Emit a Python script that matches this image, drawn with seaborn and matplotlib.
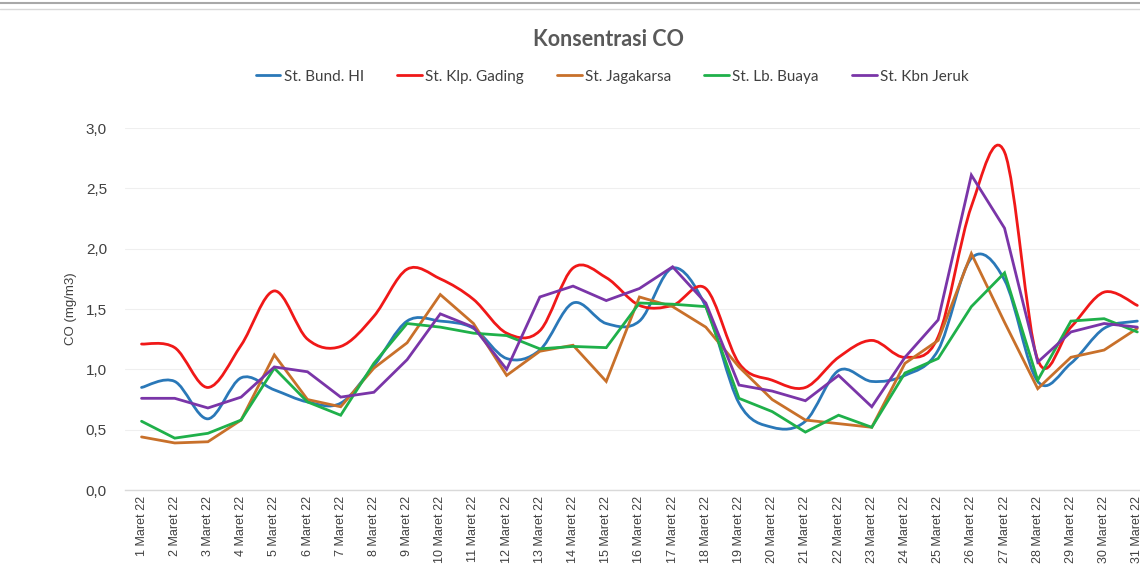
import numpy as np
import pandas as pd
import matplotlib.pyplot as plt
import seaborn as sns
from matplotlib.path import Path
from matplotlib.patches import PathPatch
from matplotlib.lines import Line2D

# data (CO, mg/m3), 1-31 Maret 2022
days = [f"{d} Maret 22" for d in range(1, 32)]
bund_hi = [0.85, 0.90, 0.59, 0.93, 0.83, 0.73, 0.72, 1.03, 1.40, 1.40, 1.34, 1.09, 1.16, 1.55, 1.38, 1.40,
           1.84, 1.52, 0.72, 0.52, 0.57, 0.99, 0.90, 0.95, 1.16, 1.92, 1.74, 0.90, 1.05, 1.34, 1.40]
klp_gading = [1.21, 1.18, 0.85, 1.20, 1.65, 1.25, 1.19, 1.44, 1.83, 1.75, 1.58, 1.30, 1.32, 1.84, 1.76, 1.53,
              1.53, 1.67, 1.05, 0.91, 0.85, 1.10, 1.24, 1.10, 1.27, 2.35, 2.80, 1.08, 1.35, 1.64, 1.53]
jagakarsa = [0.44, 0.39, 0.40, 0.58, 1.12, 0.75, 0.69, 1.01, 1.22, 1.62, 1.38, 0.95, 1.15, 1.20, 0.90, 1.60,
             1.52, 1.35, 1.02, 0.75, 0.58, 0.55, 0.52, 1.05, 1.24, 1.96, 1.39, 0.84, 1.10, 1.16, 1.34]
lb_buaya = [0.57, 0.43, 0.47, 0.58, 1.01, 0.73, 0.62, 1.05, 1.38, 1.35, 1.30, 1.28, 1.17, 1.19, 1.18, 1.55,
            1.54, 1.52, 0.76, 0.65, 0.48, 0.62, 0.52, 0.97, 1.09, 1.52, 1.80, 0.91, 1.40, 1.42, 1.31]
kbn_jeruk = [0.76, 0.76, 0.68, 0.77, 1.02, 0.98, 0.77, 0.81, 1.08, 1.46, 1.35, 1.00, 1.60, 1.69, 1.57, 1.67,
             1.85, 1.55, 0.87, 0.82, 0.74, 0.95, 0.69, 1.10, 1.41, 2.61, 2.17, 1.06, 1.31, 1.38, 1.35]

stations = ["St. Bund. HI", "St. Klp. Gading", "St. Jagakarsa", "St. Lb. Buaya", "St. Kbn Jeruk"]
series = [bund_hi, klp_gading, jagakarsa, lb_buaya, kbn_jeruk]
colors = ["#2a78b8", "#f01818", "#c8702a", "#1fb04a", "#7a35a8"]
smoothed = [True, True, False, False, False]

sns.set_style("white")
plt.rcParams["font.family"] = ["Liberation Sans", "DejaVu Sans"]

fig = plt.figure(figsize=(11.4, 5.65), dpi=100)
ax = fig.add_axes([0.1096, 0.1327, 0.9026, 0.6407])

x = np.arange(len(days))


def smooth_patch(xs, ys, color):
    # Excel-style smoothed line: cubic Bezier through every point
    pts = np.column_stack([xs, ys]).astype(float)
    verts = [pts[0]]
    codes = [Path.MOVETO]
    n = len(pts)
    for i in range(n - 1):
        p0 = pts[max(i - 1, 0)]
        p1 = pts[i]
        p2 = pts[i + 1]
        p3 = pts[min(i + 2, n - 1)]
        c1 = p1 + (p2 - p0) / 6.0
        c2 = p2 - (p3 - p1) / 6.0
        verts += [c1, c2, p2]
        codes += [Path.CURVE4] * 3
    return PathPatch(Path(verts, codes), fill=False, edgecolor=color, lw=2.0,
                     capstyle="round", joinstyle="round")


for name, vals, col, sm in zip(stations, series, colors, smoothed):
    if sm:
        ax.add_patch(smooth_patch(x, vals, col))
    else:
        df = pd.DataFrame({"x": x, "y": vals})
        sns.lineplot(data=df, x="x", y="y", ax=ax, color=col, lw=2.0,
                     solid_joinstyle="miter")

ax.set_xlim(-0.5, len(days) - 0.5)
ax.set_ylim(0, 3.0)
ax.set_yticks(np.arange(0, 3.01, 0.5))
ax.set_yticklabels([f"{v:.1f}".replace(".", ",") for v in np.arange(0, 3.01, 0.5)],
                   fontsize=11, color="#404040")
ax.set_xticks(x)
ax.set_xticklabels(days, rotation=90, fontsize=9, color="#404040", va="top")
ax.tick_params(axis="y", length=0, pad=13)
ax.tick_params(axis="x", length=0, pad=4)
ax.set_xlabel("")
ax.set_ylabel("CO (mg/m3)", fontsize=9.5, color="#404040", labelpad=6)
ax.yaxis.grid(True, color="#efefef", lw=0.8)
ax.set_axisbelow(True)
for s in ["top", "right", "left"]:
    ax.spines[s].set_visible(False)
ax.spines["bottom"].set_color("#d9d9d9")
ax.spines["bottom"].set_linewidth(1.0)

fig.text(0.534, 0.930, "Konsentrasi CO", ha="center", va="center", fontsize=15.5,
         fontweight="bold", color="#595959", family=["Lato", "DejaVu Sans"])

handles = [Line2D([0], [0], color=c, lw=2.0) for c in colors]
leg = fig.legend(handles, stations, loc="center", bbox_to_anchor=(0.537, 0.864), ncol=5,
                 frameon=False, handlelength=1.6, handletextpad=0.2, columnspacing=2.2,
                 prop={"family": ["Lato", "DejaVu Sans"], "size": 11})
for t in leg.get_texts():
    t.set_color("#404040")

# border of the original chart frame at the top
fig.add_artist(Line2D([0, 1], [0.994, 0.994], color="#a8a8a8", lw=1.5, transform=fig.transFigure))
fig.add_artist(Line2D([0, 1], [0.984, 0.984], color="#d8d8d8", lw=1.0, transform=fig.transFigure))

fig.savefig("out.png", dpi=100)
